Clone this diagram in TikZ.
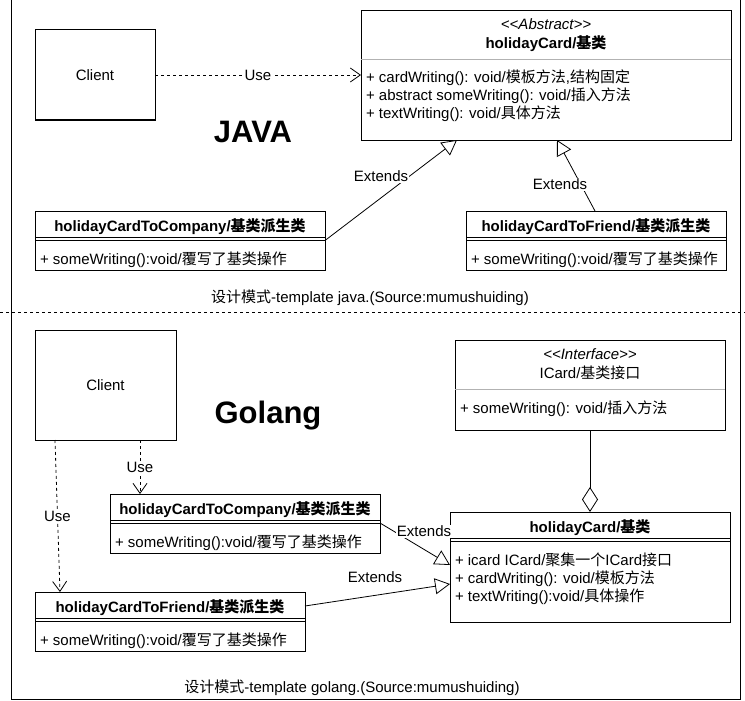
\documentclass[tikz,border=0pt]{standalone}
\usepackage{fontspec}
\setmainfont{Liberation Sans}
\newfontfamily\cjkfont{Noto Sans CJK SC}
\newcommand{\zh}[1]{{\cjkfont #1}}
\usetikzlibrary{arrows.meta,calc}
\begin{document}
\begin{tikzpicture}[x=1pt,y=-1pt,
  every node/.style={inner sep=0pt, outer sep=0pt, font=\fontsize{15}{18}\selectfont},
  box/.style={draw, line width=1pt, fill=white, anchor=north west, rectangle},
  lt/.style={anchor=mid west, yshift=-3pt},
  ct/.style={anchor=mid, yshift=-3pt},
  bt/.style={anchor=mid, yshift=-3pt, font=\fontsize{15}{18}\selectfont\bfseries},
  it/.style={anchor=mid, yshift=-3pt, font=\fontsize{15}{18}\selectfont\itshape},
  sepline/.style={draw=gray!60, line width=1pt},
  dblline/.style={draw, line width=1pt},
  usearrow/.style={draw, line width=0.8pt, dash pattern=on 3pt off 3pt, -{Straight Barb[length=10pt,width=14pt]}},
  extarrow/.style={draw, line width=0.8pt, -{Triangle[open, fill=white, length=15pt, width=16pt]}},
  aggarrow/.style={draw, line width=0.8pt, -{Diamond[open, fill=white, length=25pt, width=16pt]}},
  lbl/.style={fill=white, inner sep=1pt, anchor=mid, yshift=-3pt},
  bigtitle/.style={anchor=mid, yshift=-8pt, font=\fontsize{31}{36}\selectfont\bfseries}
]
\useasboundingbox (0,0) rectangle (745,701);
\fill[white] (0,0) rectangle (745,701);

% outer frame
\draw[line width=1pt] (11,0) -- (11,699) -- (740,699) -- (740,0);

% ================= JAVA =================
\node[box, minimum width=120pt, minimum height=90pt] (clientJ) at (35,30) {Client};

\node[box, minimum width=370pt, minimum height=129pt] (holJ) at (361,11) {};
\draw[sepline] ($(holJ.north west)+(0,49)$) -- ($(holJ.north east)+(0,49)$);
\node[it] (holJs) at (546,24) {<{}<Abstract>{}>};
\node[bt] (holJt) at (546,43) {holidayCard/\zh{基类}};
\node[lt] (holJa1) at (366,77) {+ cardWriting(): void/\zh{模板方法},\zh{结构固定}};
\node[lt] (holJa2) at (366,95) {+ abstract someWriting(): void/\zh{插入方法}};
\node[lt] (holJa3) at (366,113) {+ textWriting(): void/\zh{具体方法}};

\node[box, minimum width=290pt, minimum height=59pt] (compJ) at (35,211) {};
\draw[dblline] ($(compJ.north west)+(0,26)$) -- ($(compJ.north east)+(0,26)$);
\draw[dblline] ($(compJ.north west)+(0,29)$) -- ($(compJ.north east)+(0,29)$);
\node[bt] (compJt) at (180,226) {holidayCardToCompany/\zh{基类派生类}};
\node[lt] (compJa) at (40,259) {+ someWriting():void/\zh{覆写了基类操作}};

\node[box, minimum width=260pt, minimum height=59pt] (friJ) at (466,211) {};
\draw[dblline] ($(friJ.north west)+(0,26)$) -- ($(friJ.north east)+(0,26)$);
\draw[dblline] ($(friJ.north west)+(0,29)$) -- ($(friJ.north east)+(0,29)$);
\node[bt] (friJt) at (596,226) {holidayCardToFriend/\zh{基类派生类}};
\node[lt] (friJa) at (471,259) {+ someWriting():void/\zh{覆写了基类操作}};

\draw[usearrow] (clientJ.east) -- (clientJ.east -| holJ.west) node[lbl, pos=0.5] (useJ) {Use};
\draw[extarrow] (compJ.east) -- ($(holJ.south west)+(96,0)$);
\node[lbl] (extJ1) at (381,176) {Extends};
\draw[extarrow] ($(friJ.north west)+(129,0)$) -- ($(holJ.south west)+(196,0)$);
\node[lbl] (extJ2) at (560,184) {Extends};

\node[bigtitle] (java) at (253,132) {JAVA};
\node[ct] (capJ) at (370,297) {\zh{设计模式}-template java.(Source:mumushuiding)};

% separator
\draw[line width=0.8pt, dash pattern=on 3pt off 3pt] (0,312) -- (745,312);

% ================= Golang =================
\node[box, minimum width=141pt, minimum height=110pt] (clientG) at (35,330) {Client};
\node[bigtitle] (golang) at (268,413) {Golang};

\node[box, minimum width=270pt, minimum height=90pt] (iface) at (455,340) {};
\draw[sepline] ($(iface.north west)+(0,49)$) -- ($(iface.north east)+(0,49)$);
\node[it] (ifaces) at (590,354) {<{}<Interface>{}>};
\node[ct] (ifacet) at (590,373) {ICard/\zh{基类接口}};
\node[lt] (ifacea) at (460,408) {+ someWriting(): void/\zh{插入方法}};

\node[box, minimum width=280pt, minimum height=110pt] (holG) at (450,512) {};
\draw[dblline] ($(holG.north west)+(0,26)$) -- ($(holG.north east)+(0,26)$);
\draw[dblline] ($(holG.north west)+(0,29)$) -- ($(holG.north east)+(0,29)$);
\node[bt] (holGt) at (590,527) {holidayCard/\zh{基类}};
\node[lt] (holGa1) at (455,560) {+ icard ICard/\zh{聚集一个}ICard\zh{接口}};
\node[lt] (holGa2) at (455,578) {+ cardWriting(): void/\zh{模板方法}};
\node[lt] (holGa3) at (455,596) {+ textWriting():void/\zh{具体操作}};

\node[box, minimum width=270pt, minimum height=59pt] (compG) at (110,494) {};
\draw[dblline] ($(compG.north west)+(0,26)$) -- ($(compG.north east)+(0,26)$);
\draw[dblline] ($(compG.north west)+(0,29)$) -- ($(compG.north east)+(0,29)$);
\node[bt] (compGt) at (245,509) {holidayCardToCompany/\zh{基类派生类}};
\node[lt] (compGa) at (115,542) {+ someWriting():void/\zh{覆写了基类操作}};

\node[box, minimum width=270pt, minimum height=59pt] (friG) at (35,592) {};
\draw[dblline] ($(friG.north west)+(0,26)$) -- ($(friG.north east)+(0,26)$);
\draw[dblline] ($(friG.north west)+(0,29)$) -- ($(friG.north east)+(0,29)$);
\node[bt] (friGt) at (170,607) {holidayCardToFriend/\zh{基类派生类}};
\node[lt] (friGa) at (40,640) {+ someWriting():void/\zh{覆写了基类操作}};

\draw[usearrow] ($(clientG.south west)+(105,0)$) -- ($(compG.north west)+(30,0)$) node[lbl, pos=0.5] (useG1) {Use};
\draw[usearrow] ($(clientG.south west)+(20,0)$) -- ($(friG.north west)+(25,0)$) node[lbl, pos=0.5] (useG2) {Use};
\draw[aggarrow] (iface.south) -- (holG.north);
\draw[extarrow] ($(compG.north east)+(0,29)$) -- ($(holG.north west)+(0,53)$);
\node[lbl] (extG1) at (424,531) {Extends};
\draw[extarrow] ($(friG.north east)+(0,14)$) -- ($(holG.north west)+(0,72)$);
\node[lbl] (extG2) at (375,577) {Extends};

\node[ct] (capG) at (352,687) {\zh{设计模式}-template golang.(Source:mumushuiding)};
\end{tikzpicture}
\end{document}
